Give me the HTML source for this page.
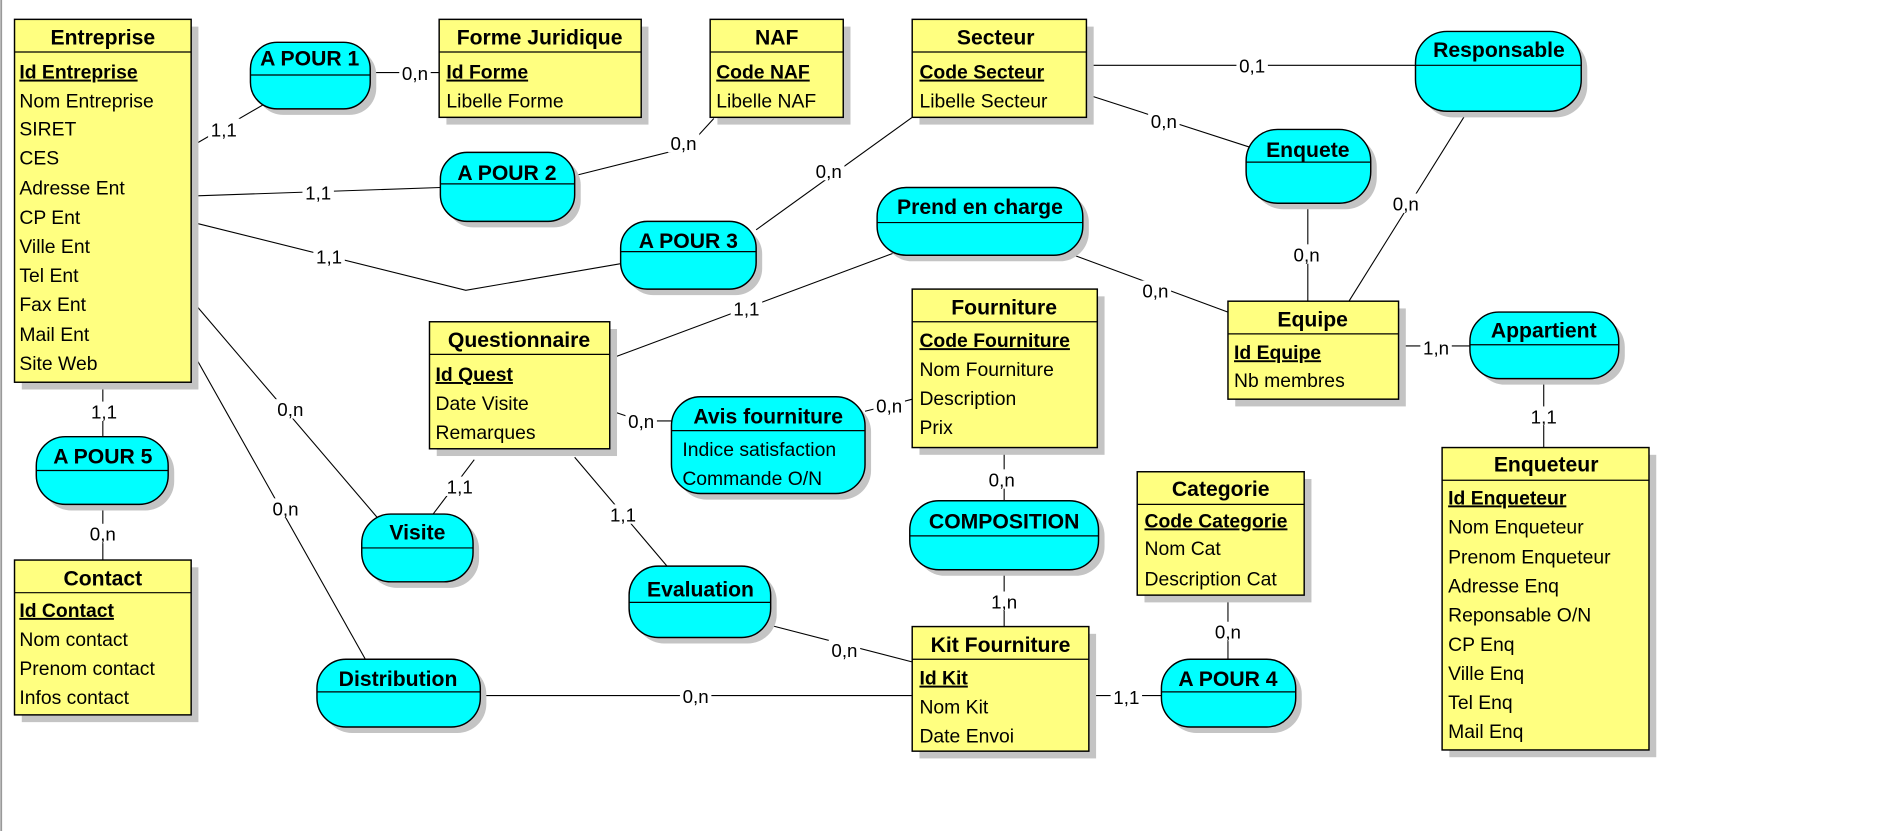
<!DOCTYPE html>
<html><head><meta charset="utf-8">
<style>
html,body{margin:0;padding:0;background:#fff;}
svg{display:block;}
text{font-family:"Liberation Sans Narrow","Liberation Sans",sans-serif;font-size:16px;fill:#000;}
.t{font-weight:bold;font-size:17.5px;text-anchor:middle;}
.k{font-weight:bold;text-decoration:underline;}
.l{text-anchor:middle;font-size:15.5px;}
.e{fill:#ffff80;stroke:#000;stroke-width:1.2;}
.r{fill:#00ffff;stroke:#000;stroke-width:1.2;}
.s{fill:#c4c4c4;}
.c{stroke:#000;stroke-width:0.9;fill:none;}
.lb{fill:#fff;}
</style></head><body>
<svg width="1897" height="831" viewBox="0 0 1568 687" preserveAspectRatio="none">
<line x1="1" y1="0" x2="1" y2="687" stroke="#999" stroke-width="1.5"/>
<!-- connectors -->
<g class="c">
<polyline points="160,120 222,84"/>
<line x1="306" y1="60" x2="363" y2="60"/>
<line x1="160" y1="162" x2="364" y2="155"/>
<polyline points="476,145 568,122 590,98"/>
<polyline points="160,184 385,240 513,218"/>
<line x1="625" y1="190" x2="754" y2="97"/>
<line x1="898" y1="54" x2="1170" y2="54"/>
<line x1="898" y1="78" x2="1034" y2="122"/>
<line x1="1081" y1="168" x2="1081" y2="249"/>
<line x1="1218" y1="84" x2="1115" y2="249"/>
<line x1="885" y1="210" x2="1015" y2="258"/>
<line x1="506" y1="296" x2="750" y2="205"/>
<line x1="1158" y1="286" x2="1215" y2="286"/>
<line x1="1276" y1="316" x2="1276" y2="370"/>
<polyline points="506,340 530,348 555,348"/>
<polyline points="715,340 735,335 754,330"/>
<line x1="830" y1="375" x2="830" y2="414"/>
<line x1="830" y1="471" x2="830" y2="518"/>
<line x1="1015" y1="496" x2="1015" y2="545"/>
<line x1="903" y1="575" x2="960" y2="575"/>
<line x1="397" y1="575" x2="754" y2="575"/>
<line x1="637" y1="517" x2="757" y2="548"/>
<line x1="475" y1="378" x2="553" y2="470"/>
<line x1="392" y1="380" x2="358" y2="425"/>
<line x1="160" y1="250" x2="312" y2="428"/>
<line x1="162" y1="296" x2="302" y2="545"/>
<line x1="85" y1="320" x2="85" y2="361"/>
<line x1="85" y1="417" x2="85" y2="463"/>
</g>
<!-- connector labels -->
<g>
<rect class="lb" x="172" y="98" width="26" height="18"/><text class="l" x="185" y="113">1,1</text>
<rect class="lb" x="330" y="52" width="26" height="16"/><text class="l" x="343" y="66">0,n</text>
<rect class="lb" x="250" y="151" width="26" height="16"/><text class="l" x="263" y="165">1,1</text>
<rect class="lb" x="552" y="110" width="26" height="16"/><text class="l" x="565" y="124">0,n</text>
<rect class="lb" x="259" y="204" width="26" height="16"/><text class="l" x="272" y="218">1,1</text>
<rect class="lb" x="672" y="133" width="26" height="16"/><text class="l" x="685" y="147">0,n</text>
<rect class="lb" x="1022" y="46" width="26" height="16"/><text class="l" x="1035" y="60">0,1</text>
<rect class="lb" x="949" y="92" width="26" height="16"/><text class="l" x="962" y="106">0,n</text>
<rect class="lb" x="1067" y="202" width="26" height="16"/><text class="l" x="1080" y="216">0,n</text>
<rect class="lb" x="1149" y="160" width="26" height="16"/><text class="l" x="1162" y="174">0,n</text>
<rect class="lb" x="942" y="232" width="26" height="16"/><text class="l" x="955" y="246">0,n</text>
<rect class="lb" x="604" y="247" width="26" height="16"/><text class="l" x="617" y="261">1,1</text>
<rect class="lb" x="1174" y="279" width="26" height="16"/><text class="l" x="1187" y="293">1,n</text>
<rect class="lb" x="1263" y="336" width="26" height="16"/><text class="l" x="1276" y="350">1,1</text>
<rect class="lb" x="517" y="340" width="26" height="16"/><text class="l" x="530" y="354">0,n</text>
<rect class="lb" x="722" y="327" width="26" height="16"/><text class="l" x="735" y="341">0,n</text>
<rect class="lb" x="815" y="388" width="26" height="16"/><text class="l" x="828" y="402">0,n</text>
<rect class="lb" x="817" y="489" width="26" height="16"/><text class="l" x="830" y="503">1,n</text>
<rect class="lb" x="1002" y="514" width="26" height="16"/><text class="l" x="1015" y="528">0,n</text>
<rect class="lb" x="918" y="568" width="26" height="16"/><text class="l" x="931" y="582">1,1</text>
<rect class="lb" x="562" y="567" width="26" height="16"/><text class="l" x="575" y="581">0,n</text>
<rect class="lb" x="685" y="529" width="26" height="16"/><text class="l" x="698" y="543">0,n</text>
<rect class="lb" x="502" y="417" width="26" height="16"/><text class="l" x="515" y="431">1,1</text>
<rect class="lb" x="367" y="394" width="26" height="16"/><text class="l" x="380" y="408">1,1</text>
<rect class="lb" x="227" y="330" width="26" height="16"/><text class="l" x="240" y="344">0,n</text>
<rect class="lb" x="223" y="412" width="26" height="16"/><text class="l" x="236" y="426">0,n</text>
<rect class="lb" x="73" y="332" width="26" height="16"/><text class="l" x="86" y="346">1,1</text>
<rect class="lb" x="72" y="433" width="26" height="16"/><text class="l" x="85" y="447">0,n</text>
</g>

<!-- entities -->
<!-- Entreprise -->
<rect class="s" x="18" y="22" width="146" height="300"/>
<rect class="e" x="12" y="16" width="146" height="300"/>
<line x1="12" y1="43" x2="158" y2="43" stroke="#000"/>
<text class="t" x="85" y="37">Entreprise</text>
<text class="k" x="16" y="65">Id Entreprise</text>
<text x="16" y="89">Nom Entreprise</text><text x="16" y="112">SIRET</text><text x="16" y="136">CES</text>
<text x="16" y="161">Adresse Ent</text><text x="16" y="185">CP Ent</text><text x="16" y="209">Ville Ent</text>
<text x="16" y="233">Tel Ent</text><text x="16" y="257">Fax Ent</text><text x="16" y="282">Mail Ent</text><text x="16" y="306">Site Web</text>

<!-- Forme Juridique -->
<rect class="s" x="369" y="22" width="167" height="81"/>
<rect class="e" x="363" y="16" width="167" height="81"/>
<line x1="363" y1="43" x2="530" y2="43" stroke="#000"/>
<text class="t" x="446" y="37">Forme Juridique</text>
<text class="k" x="369" y="65">Id Forme</text><text x="369" y="89">Libelle Forme</text>

<!-- NAF -->
<rect class="s" x="593" y="22" width="110" height="81"/>
<rect class="e" x="587" y="16" width="110" height="81"/>
<line x1="587" y1="43" x2="697" y2="43" stroke="#000"/>
<text class="t" x="642" y="37">NAF</text>
<text class="k" x="592" y="65">Code NAF</text><text x="592" y="89">Libelle NAF</text>

<!-- Secteur -->
<rect class="s" x="760" y="22" width="144" height="81"/>
<rect class="e" x="754" y="16" width="144" height="81"/>
<line x1="754" y1="43" x2="898" y2="43" stroke="#000"/>
<text class="t" x="823" y="37">Secteur</text>
<text class="k" x="760" y="65">Code Secteur</text><text x="760" y="89">Libelle Secteur</text>

<!-- Questionnaire -->
<rect class="s" x="361" y="272" width="149" height="105"/>
<rect class="e" x="355" y="266" width="149" height="105"/>
<line x1="355" y1="293" x2="504" y2="293" stroke="#000"/>
<text class="t" x="429" y="287">Questionnaire</text>
<text class="k" x="360" y="315">Id Quest</text><text x="360" y="339">Date Visite</text><text x="360" y="363">Remarques</text>

<!-- Fourniture -->
<rect class="s" x="760" y="245" width="153" height="131"/>
<rect class="e" x="754" y="239" width="153" height="131"/>
<line x1="754" y1="266" x2="907" y2="266" stroke="#000"/>
<text class="t" x="830" y="260">Fourniture</text>
<text class="k" x="760" y="287">Code Fourniture</text><text x="760" y="311">Nom Fourniture</text>
<text x="760" y="335">Description</text><text x="760" y="359">Prix</text>

<!-- Equipe -->
<rect class="s" x="1021" y="255" width="141" height="81"/>
<rect class="e" x="1015" y="249" width="141" height="81"/>
<line x1="1015" y1="276" x2="1156" y2="276" stroke="#000"/>
<text class="t" x="1085" y="270">Equipe</text>
<text class="k" x="1020" y="297">Id Equipe</text><text x="1020" y="320">Nb membres</text>

<!-- Enqueteur -->
<rect class="s" x="1198" y="376" width="171" height="250"/>
<rect class="e" x="1192" y="370" width="171" height="250"/>
<line x1="1192" y1="397" x2="1363" y2="397" stroke="#000"/>
<text class="t" x="1278" y="390">Enqueteur</text>
<text class="k" x="1197" y="417">Id Enqueteur</text><text x="1197" y="441">Nom Enqueteur</text>
<text x="1197" y="466">Prenom Enqueteur</text><text x="1197" y="490">Adresse Enq</text>
<text x="1197" y="514">Reponsable O/N</text><text x="1197" y="538">CP Enq</text>
<text x="1197" y="562">Ville Enq</text><text x="1197" y="586">Tel Enq</text><text x="1197" y="610">Mail Enq</text>

<!-- Contact -->
<rect class="s" x="18" y="469" width="146" height="128"/>
<rect class="e" x="12" y="463" width="146" height="128"/>
<line x1="12" y1="490" x2="158" y2="490" stroke="#000"/>
<text class="t" x="85" y="484">Contact</text>
<text class="k" x="16" y="510">Id Contact</text><text x="16" y="534">Nom contact</text>
<text x="16" y="558">Prenom contact</text><text x="16" y="582">Infos contact</text>

<!-- Categorie -->
<rect class="s" x="946" y="396" width="138" height="102"/>
<rect class="e" x="940" y="390" width="138" height="102"/>
<line x1="940" y1="417" x2="1078" y2="417" stroke="#000"/>
<text class="t" x="1009" y="410">Categorie</text>
<text class="k" x="946" y="436">Code Categorie</text><text x="946" y="459">Nom Cat</text><text x="946" y="484">Description Cat</text>

<!-- Kit Fourniture -->
<rect class="s" x="760" y="524" width="146" height="103"/>
<rect class="e" x="754" y="518" width="146" height="103"/>
<line x1="754" y1="545" x2="900" y2="545" stroke="#000"/>
<text class="t" x="827" y="539">Kit Fourniture</text>
<text class="k" x="760" y="566">Id Kit</text><text x="760" y="590">Nom Kit</text><text x="760" y="614">Date Envoi</text>

<!-- relationships -->
<g>
<rect class="s" x="212" y="40" width="99" height="55" rx="22"/>
<rect class="r" x="207" y="35" width="99" height="55" rx="22"/>
<line x1="207" y1="62" x2="306" y2="62" stroke="#000"/>
<text class="t" x="256" y="54">A POUR 1</text>

<rect class="s" x="369" y="131" width="111" height="57" rx="22"/>
<rect class="r" x="364" y="126" width="111" height="57" rx="22"/>
<line x1="364" y1="152" x2="475" y2="152" stroke="#000"/>
<text class="t" x="419" y="149">A POUR 2</text>

<rect class="s" x="518" y="188" width="112" height="56" rx="22"/>
<rect class="r" x="513" y="183" width="112" height="56" rx="22"/>
<line x1="513" y1="208" x2="625" y2="208" stroke="#000"/>
<text class="t" x="569" y="205">A POUR 3</text>

<rect class="s" x="1175" y="31" width="137" height="66" rx="26"/>
<rect class="r" x="1170" y="26" width="137" height="66" rx="26"/>
<line x1="1170" y1="54" x2="1307" y2="54" stroke="#000"/>
<text class="t" x="1239" y="47">Responsable</text>

<rect class="s" x="1035" y="112" width="103" height="61" rx="26"/>
<rect class="r" x="1030" y="107" width="103" height="61" rx="26"/>
<line x1="1030" y1="134" x2="1133" y2="134" stroke="#000"/>
<text class="t" x="1081" y="130">Enquete</text>

<rect class="s" x="730" y="160" width="170" height="56" rx="24"/>
<rect class="r" x="725" y="155" width="170" height="56" rx="24"/>
<line x1="725" y1="184" x2="895" y2="184" stroke="#000"/>
<text class="t" x="810" y="177">Prend en charge</text>

<rect class="s" x="1220" y="263" width="123" height="55" rx="24"/>
<rect class="r" x="1215" y="258" width="123" height="55" rx="24"/>
<line x1="1215" y1="285" x2="1338" y2="285" stroke="#000"/>
<text class="t" x="1276" y="279">Appartient</text>

<rect class="s" x="560" y="333" width="160" height="80" rx="24"/>
<rect class="r" x="555" y="328" width="160" height="80" rx="24"/>
<line x1="555" y1="356" x2="715" y2="356" stroke="#000"/>
<text class="t" x="635" y="350">Avis fourniture</text>
<text x="564" y="377">Indice satisfaction</text><text x="564" y="401">Commande O/N</text>

<rect class="s" x="35" y="366" width="109" height="56" rx="24"/>
<rect class="r" x="30" y="361" width="109" height="56" rx="24"/>
<line x1="30" y1="389" x2="139" y2="389" stroke="#000"/>
<text class="t" x="85" y="383">A POUR 5</text>

<rect class="s" x="304" y="430" width="92" height="56" rx="24"/>
<rect class="r" x="299" y="425" width="92" height="56" rx="24"/>
<line x1="299" y1="453" x2="391" y2="453" stroke="#000"/>
<text class="t" x="345" y="446">Visite</text>

<rect class="s" x="525" y="473" width="117" height="59" rx="24"/>
<rect class="r" x="520" y="468" width="117" height="59" rx="24"/>
<line x1="520" y1="498" x2="637" y2="498" stroke="#000"/>
<text class="t" x="579" y="493">Evaluation</text>

<rect class="s" x="757" y="419" width="156" height="57" rx="24"/>
<rect class="r" x="752" y="414" width="156" height="57" rx="24"/>
<line x1="752" y1="443" x2="908" y2="443" stroke="#000"/>
<text class="t" x="830" y="437">COMPOSITION</text>

<rect class="s" x="267" y="550" width="135" height="56" rx="24"/>
<rect class="r" x="262" y="545" width="135" height="56" rx="24"/>
<line x1="262" y1="572" x2="397" y2="572" stroke="#000"/>
<text class="t" x="329" y="567">Distribution</text>

<rect class="s" x="965" y="550" width="111" height="56" rx="24"/>
<rect class="r" x="960" y="545" width="111" height="56" rx="24"/>
<line x1="960" y1="572" x2="1071" y2="572" stroke="#000"/>
<text class="t" x="1015" y="567">A POUR 4</text>
</g>
</svg>
</body></html>
